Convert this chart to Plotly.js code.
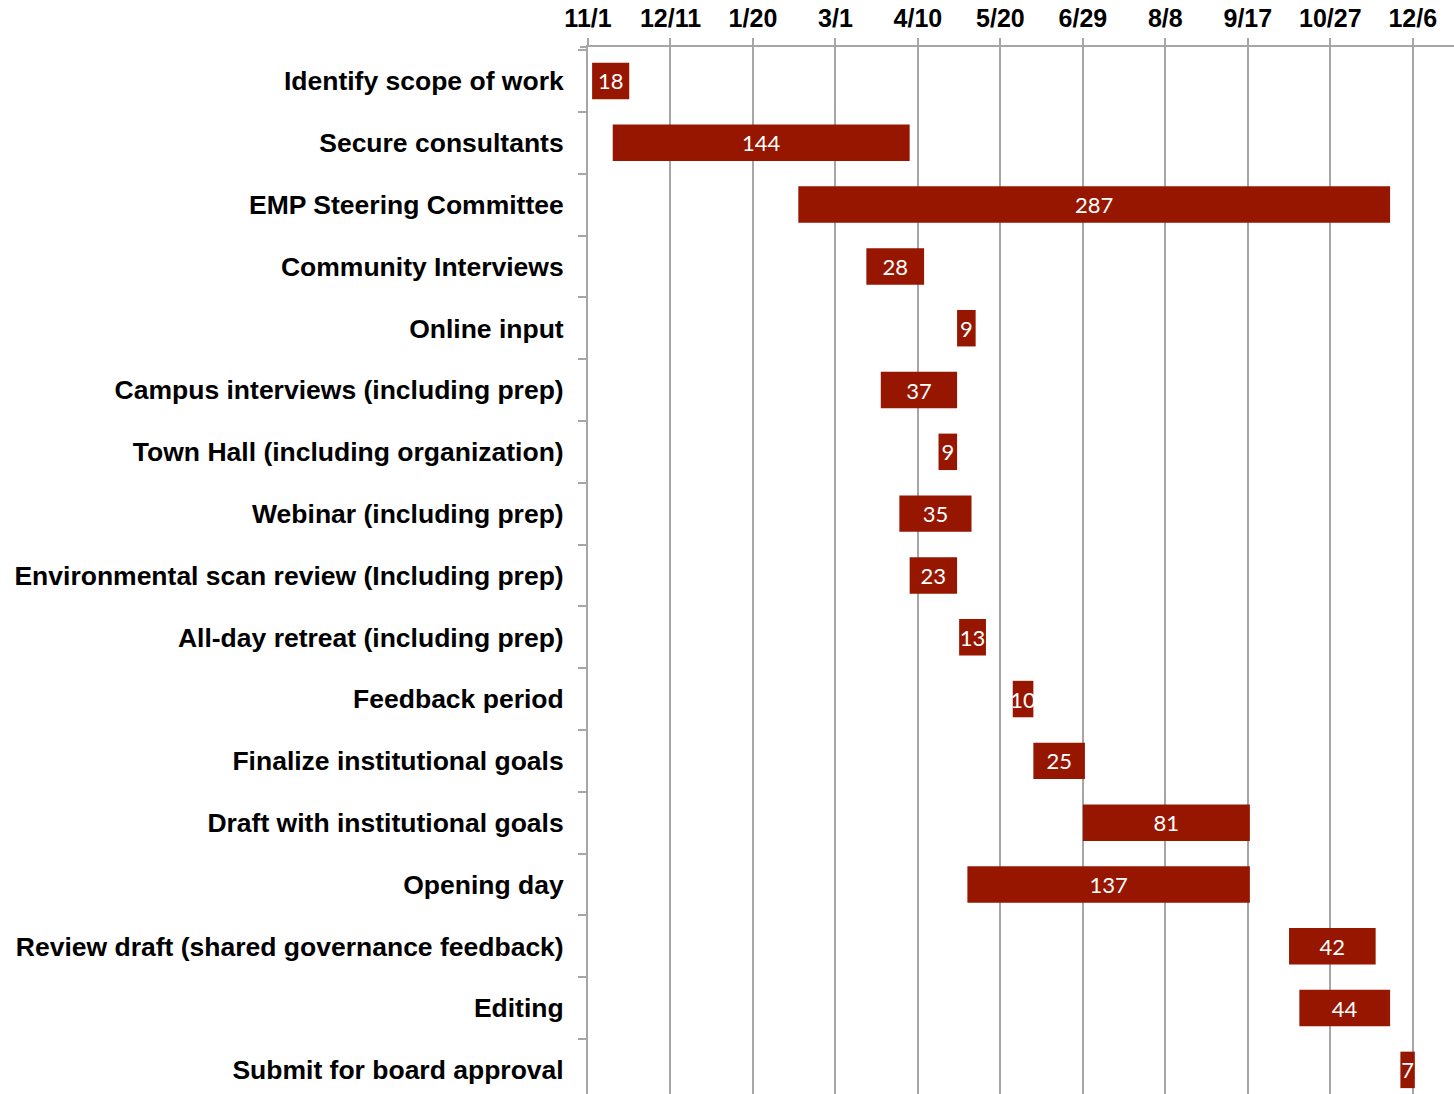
<!DOCTYPE html>
<html>
<head>
<meta charset="utf-8">
<script src="https://cdn.plot.ly/plotly-3.0.1.min.js"></script>
<style>
html,body{margin:0;padding:0;background:#fff;}
#chart{width:1454px;height:1094px;}
</style>
</head>
<body>
<div id="chart"></div>
<script>
// Task names (top to bottom)
const tasks = [
  "Identify scope of work",
  "Secure consultants",
  "EMP Steering Committee",
  "Community Interviews",
  "Online input",
  "Campus interviews (including prep)",
  "Town Hall (including organization)",
  "Webinar (including prep)",
  "Environmental scan review (Including prep)",
  "All-day retreat (including prep)",
  "Feedback period",
  "Finalize institutional goals",
  "Draft with institutional goals",
  "Opening day",
  "Review draft (shared governance feedback)",
  "Editing",
  "Submit for board approval"
];
// Start dates
const startDates = [
  "2013-11-03", "2013-11-13", "2014-02-11", "2014-03-16", "2014-04-29",
  "2014-03-23", "2014-04-20", "2014-04-01", "2014-04-06", "2014-04-30",
  "2014-05-26", "2014-06-05", "2014-06-29", "2014-05-04", "2014-10-07",
  "2014-10-12", "2014-11-30"
];
// Durations in days
const durations = [18, 144, 287, 28, 9, 37, 9, 35, 23, 13, 10, 25, 81, 137, 42, 44, 7];

// Axis settings
const axisStart = "2013-11-01";
const axisEnd = "2014-12-26";
const tickStepDays = 40;

const DAY = 86400000;
const barColor = "#971600";
const gridColor = "#a6a6a6";

const trace = {
  type: "bar",
  orientation: "h",
  y: tasks,
  base: startDates,
  x: durations.map(d => d * DAY),
  text: durations.map(String),
  textposition: "inside",
  insidetextanchor: "middle",
  constraintext: "none",
  textangle: 0,
  textfont: {family: "Lato, 'Open Sans', sans-serif", size: 22, color: "#ffffff"},
  marker: {color: barColor, line: {width: 0}},
  width: 0.59,
  hoverinfo: "none"
};

const layout = {
  width: 1454,
  height: 1094,
  margin: {l: 588, r: 0, t: 47, b: 0, pad: 0},
  paper_bgcolor: "#ffffff",
  plot_bgcolor: "#ffffff",
  showlegend: false,
  xaxis: {
    type: "date",
    side: "top",
    range: [axisStart, axisEnd],
    tick0: axisStart,
    dtick: tickStepDays * DAY,
    tickformat: "%-m/%-d",
    ticks: "outside",
    ticklen: 7,
    tickwidth: 2,
    tickcolor: gridColor,
    ticklabelstandoff: 1,
    showgrid: true,
    gridcolor: gridColor,
    gridwidth: 2,
    showline: true,
    linecolor: gridColor,
    linewidth: 2,
    zeroline: false,
    automargin: false,
    tickfont: {family: "'Liberation Sans', Arial, sans-serif", size: 25, color: "#000000", weight: "bold"}
  },
  yaxis: {
    type: "category",
    categoryorder: "array",
    categoryarray: tasks,
    range: [16.39, -0.55],
    ticks: "outside",
    tickson: "boundaries",
    ticklen: 8,
    tickwidth: 2,
    tickcolor: gridColor,
    ticklabelstandoff: 17,
    showgrid: false,
    showline: true,
    linecolor: gridColor,
    linewidth: 2,
    zeroline: false,
    automargin: false,
    tickfont: {family: "'Liberation Sans', Arial, sans-serif", size: 26.5, color: "#000000", weight: "bold"}
  },
  shapes: [{
    type: "line", xref: "paper", yref: "paper",
    x0: -8 / 866, x1: 0, y0: 1, y1: 1,
    line: {color: gridColor, width: 2}
  }]
};

Plotly.newPlot("chart", [trace], layout, {displayModeBar: false, staticPlot: true});
</script>
</body>
</html>
